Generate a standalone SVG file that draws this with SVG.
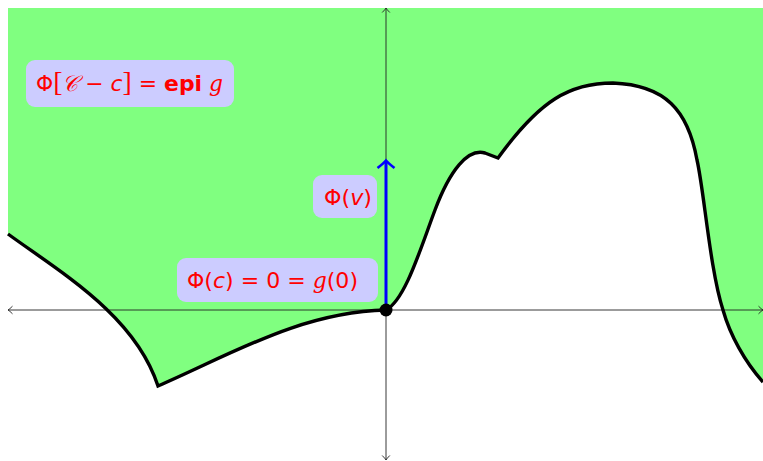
<svg xmlns="http://www.w3.org/2000/svg" width="763" height="461" viewBox="0 0 763 461">
<style>
.lbl{fill:#ccccff}
.t{fill:#ff0000;font-family:"DejaVu Sans","Liberation Sans",sans-serif;font-size:22px}
.it{font-style:italic}
.ser{font-family:"DejaVu Serif","Liberation Serif",serif;font-style:italic}
.br{font-family:"Liberation Serif","DejaVu Serif",serif;font-style:normal;font-size:28px}
.axis{stroke:#222;stroke-width:0.9;fill:none}
.curve{stroke:#000;stroke-width:3.4;fill:none;stroke-linejoin:miter}
</style>
<defs>
<marker id="ah" viewBox="-6 -5 8 10" markerWidth="8" markerHeight="10" refX="0" refY="0" orient="auto-start-reverse" markerUnits="userSpaceOnUse">
<path d="M-4.5,-3.8 Q-1.5,-0.8 0,0 Q-1.5,0.8 -4.5,3.8" fill="none" stroke="#222" stroke-width="0.9"/>
</marker>
</defs>
<g id="region">
<path d="M8,234 C60,272 135,315 158,386 C230,355 300,312 386,310 C405,300 420,250 435,210 C450,170 468,148 485,153 L498,158 C540,100 570,83 613,83 C665,85 688,110 697,160 C704,190 710,270 723,310 C730,335 745,362 763,382 V8 H8 Z" fill="#80ff80"/>
</g>
<g id="connectors">
<line class="axis" x1="8" y1="310" x2="763" y2="310" marker-start="url(#ah)" marker-end="url(#ah)"/>
<line class="axis" x1="386" y1="460" x2="386" y2="8" marker-start="url(#ah)" marker-end="url(#ah)"/>
<path class="curve" d="M8,234 C60,272 135,315 158,386 C230,355 300,312 386,310 C405,300 420,250 435,210 C450,170 468,148 485,153 L498,158 C540,100 570,83 613,83 C665,85 688,110 697,160 C704,190 710,270 723,310 C730,335 745,362 763,382"/>
<g id="vector">
<line x1="386" y1="310" x2="386" y2="162" stroke="#0000ff" stroke-width="3"/>
<path d="M377.5,168 Q384,163 386,160.5 Q388,163 394.5,168" fill="none" stroke="#0000ff" stroke-width="2.6"/>
</g>
</g>
<g id="origin">
<circle cx="386" cy="310" r="6.5" fill="#000"/>
</g>
<g id="label-epi">
<rect class="lbl" x="26" y="60" width="208" height="47" rx="9"/>
<text class="t" x="36" y="91" textLength="187" lengthAdjust="spacingAndGlyphs">Φ<tspan class="br">[</tspan><tspan class="ser">𝒞</tspan> − <tspan class="it">c</tspan><tspan class="br">]</tspan> = <tspan font-weight="bold">epi</tspan>  <tspan class="ser">g</tspan></text>
</g>
<g id="label-v">
<rect class="lbl" x="313" y="175" width="64" height="43" rx="9"/>
<text class="t" x="324" y="205" textLength="48" lengthAdjust="spacingAndGlyphs">Φ(<tspan class="it">v</tspan>)</text>
</g>
<g id="label-c">
<rect class="lbl" x="177" y="258" width="201" height="44" rx="9"/>
<text class="t" x="187" y="288" textLength="171" lengthAdjust="spacingAndGlyphs">Φ(<tspan class="it">c</tspan>) = 0 = <tspan class="ser">g</tspan>(0)</text>
</g>
</svg>
